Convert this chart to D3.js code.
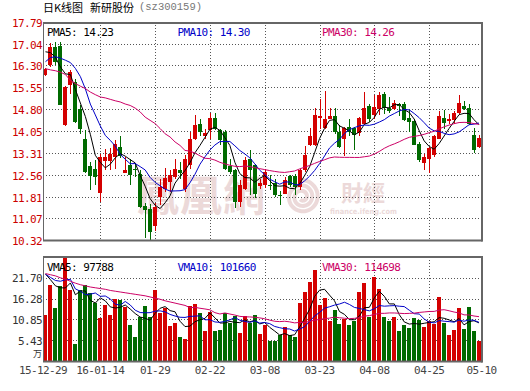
<!DOCTYPE html>
<html>
<head>
<meta charset="utf-8">
<script src="https://cdn.jsdelivr.net/npm/d3@7"></script>
<style>
  body { margin: 0; background: #fff; }
  svg { display: block; }
  text { font-family: "DejaVu Sans Mono", monospace; font-size: 11px; letter-spacing: -0.6px; }
</style>
</head>
<body>
<div id="chart"></div>
<script>
// trading days, 15-12-29 .. 16-05-10
const dates = ["2015-12-29","2015-12-30","2015-12-31",
  "2016-01-04","2016-01-05","2016-01-06","2016-01-07","2016-01-08",
  "2016-01-11","2016-01-12","2016-01-13","2016-01-14","2016-01-15",
  "2016-01-18","2016-01-19","2016-01-20","2016-01-21","2016-01-22",
  "2016-01-25","2016-01-26","2016-01-27","2016-01-28","2016-01-29",
  "2016-02-01","2016-02-02","2016-02-03","2016-02-04","2016-02-05",
  "2016-02-15","2016-02-16","2016-02-17","2016-02-18","2016-02-19",
  "2016-02-22","2016-02-23","2016-02-24","2016-02-25","2016-02-26",
  "2016-02-29","2016-03-01","2016-03-02","2016-03-03","2016-03-04",
  "2016-03-07","2016-03-08","2016-03-09","2016-03-10","2016-03-11",
  "2016-03-14","2016-03-15","2016-03-16","2016-03-17","2016-03-18",
  "2016-03-21","2016-03-22","2016-03-23","2016-03-24","2016-03-25",
  "2016-03-28","2016-03-29","2016-03-30","2016-03-31","2016-04-01",
  "2016-04-05","2016-04-06","2016-04-07","2016-04-08",
  "2016-04-11","2016-04-12","2016-04-13","2016-04-14","2016-04-15",
  "2016-04-18","2016-04-19","2016-04-20","2016-04-21","2016-04-22",
  "2016-04-25","2016-04-26","2016-04-27","2016-04-28","2016-04-29",
  "2016-05-03","2016-05-04","2016-05-05","2016-05-06",
  "2016-05-09","2016-05-10"];

const open = [15.98,16.31,16.94,16.97,14.25,15.64,15.73,14.80,13.79,12.86,
  12.74,11.92,13.01,13.01,13.17,13.51,12.63,12.88,12.76,12.59,
  11.48,11.37,10.80,11.79,12.08,12.31,12.48,12.71,12.08,12.88,
  13.77,14.29,13.90,14.08,14.50,14.08,14.02,12.86,12.71,11.62,
  12.08,13.08,12.88,12.17,12.20,12.22,12.26,11.85,11.91,12.51,
  12.53,12.14,12.71,13.59,13.56,14.50,14.16,14.48,14.57,14.02,
  13.77,14.19,14.16,13.99,14.31,14.91,14.59,14.80,15.33,14.84,
  14.80,14.99,14.99,14.50,14.39,13.62,12.97,13.08,13.22,13.79,
  14.50,14.39,14.42,14.68,14.91,14.84,13.93,13.51];

const high = [16.22,17.08,17.11,17.10,15.60,16.13,15.85,14.94,14.08,12.99,
  13.05,13.28,13.45,13.47,13.75,13.88,13.17,13.10,12.96,12.72,
  11.58,11.55,11.58,12.42,12.80,12.71,13.11,12.99,13.24,14.02,
  14.61,14.48,14.13,14.68,14.68,14.13,14.08,13.11,12.77,12.36,
  13.16,13.39,12.94,12.40,12.75,12.55,12.40,12.00,12.47,12.55,
  12.59,12.77,13.54,14.16,14.84,15.14,15.41,14.84,14.84,14.25,
  14.20,14.45,14.20,14.53,15.39,14.99,15.30,15.39,15.39,15.22,
  15.11,15.03,15.05,14.76,14.48,13.68,13.28,13.51,13.91,14.73,
  14.76,14.65,14.73,15.30,15.07,14.99,14.16,13.91];

const low = [15.95,16.25,16.32,14.93,14.22,15.33,14.34,13.96,12.63,12.02,
  12.19,11.62,12.71,12.71,12.75,13.12,12.60,12.20,12.48,11.40,
  10.38,10.32,10.64,11.51,11.97,11.97,12.42,12.42,11.97,12.76,
  13.73,13.90,13.79,13.77,14.08,13.56,12.71,12.59,11.40,11.45,
  12.02,11.85,11.76,12.08,12.10,12.05,11.80,11.52,11.88,12.15,
  11.85,12.02,12.65,13.54,13.54,14.14,14.14,14.45,13.96,13.47,
  13.20,13.90,13.39,13.90,14.27,14.36,14.48,14.61,14.65,14.68,
  14.76,14.57,14.39,14.02,13.56,12.99,12.71,12.63,13.16,13.77,
  14.14,14.31,14.31,14.65,14.76,14.25,13.31,13.47];

const close = [16.19,16.93,16.42,14.96,15.56,16.08,14.36,14.11,12.65,12.51,
  12.48,13.16,13.16,13.28,13.60,13.20,12.73,12.56,12.72,11.45,
  11.35,10.60,11.44,12.14,12.44,12.56,12.76,12.62,13.11,13.79,
  14.27,14.02,13.98,14.50,14.14,13.74,12.77,12.65,11.62,12.19,
  13.07,12.71,11.91,12.29,12.65,12.20,11.86,11.82,12.38,12.20,
  12.13,12.71,13.22,13.88,14.59,14.57,14.48,14.57,14.02,13.51,
  14.16,14.02,13.91,14.50,14.84,14.48,14.88,15.30,14.84,14.73,
  15.03,14.91,14.42,14.36,13.59,13.05,13.16,13.47,13.88,14.57,
  14.34,14.45,14.68,15.03,14.80,14.31,13.39,13.82];

// volume in 万 (10k lots)
const volume = [12.03,19.85,13.77,19.59,30.0,18.54,4.48,18.54,19.85,17.68,
  15.07,11.17,14.64,12.03,16.20,15.94,14.20,9.43,6.13,11.60,
  14.38,11.60,18.54,12.64,13.77,9.17,10.04,6.22,5.70,14.38,
  14.90,12.64,7.95,12.90,7.95,8.13,12.64,10.04,11.77,7.43,
  11.77,10.04,12.03,7.08,9.42,5.26,5.26,6.82,8.99,6.82,
  6.38,15.24,18.10,20.71,23.74,14.63,16.37,10.46,13.33,9.68,
  10.98,9.42,10.46,18.10,20.45,11.59,21.83,18.88,11.59,10.55,
  11.59,7.86,9.42,8.73,11.33,10.72,8.99,10.55,9.60,16.71,
  9.86,6.82,8.12,13.94,8.38,14.11,7.95,5.34];

// moving-average values before a full window exists
const ma5Head = [16.77,16.74,16.58,16.25];
const ma10Head = [16.43,16.57,16.60,16.55,16.48,16.40,16.20,15.92,15.50];
const ma30Head = [16.19,16.15,16.12,16.07,15.99,15.79,15.68,15.59,15.51,15.39,
  15.30,15.22,15.19,15.14,15.09,15.05,14.98,14.93,14.84,14.71,
  14.53,14.42,14.31,14.14,13.96,13.85,13.68,13.56,13.39];
const vma5Head = [22.7,21.2,19.6,19.1];
const vma10Head = [22.6,21.8,21.0,20.8,21.2,21.3,18.8,18.2,17.3];
const vma30Head = [22.8,22.5,22.2,21.7,21.3,20.8,20.3,19.9,19.6,19.3,
  19.1,18.9,18.7,18.4,18.2,18.0,17.8,17.6,17.4,17.2,
  17.0,16.7,16.4,16.1,15.7,15.4,15.1,14.8,14.5];

const priceTicks = [10.32,11.07,11.81,12.56,13.31,14.05,14.80,15.55,16.30,17.04,17.79];
const volTicks = [5.43,10.85,16.28,21.70];
const tickDates = ["2015-12-29","2016-01-14","2016-01-29","2016-02-22","2016-03-08","2016-03-23","2016-04-08","2016-04-25","2016-05-10"];
const tickLabels = ["15-12-29","16-01-14","01-29","02-22","03-08","03-23","04-08","04-25","05-10"];

const priceLegend = ["PMA5: 14.23","PMA10: 14.30","PMA30: 14.26"];
const volLegend = ["VMA5: 97788","VMA10: 101660","VMA30: 114698"];

const RED = '#d40000', GREEN = '#006a00';
const lineColors = ['#000000', '#0000c8', '#cc0066'];

const W = 530, H = 391;
const plot = {left: 43, right: 481.5, top: 22, bottom: 240};
const vol = {top: 257, bottom: 361};

const svg = d3.select('#chart').append('svg').attr('width', W).attr('height', H);

const x = d3.scaleBand().domain(dates).range([plot.left, plot.right])
  .paddingInner(0.2).paddingOuter(0.1);
const cx = d => x(d) + x.bandwidth() / 2;
const yP = d3.scaleLinear().domain([10.32, 17.79]).range([plot.bottom, plot.top]);
const yV = d3.scaleLinear().domain([0, 27.125]).range([vol.bottom, vol.top]).clamp(true);

const rows = dates.map((d, i) => ({date: d, o: open[i], h: high[i], l: low[i], c: close[i], v: volume[i]}));
const colorOf = r => r.c >= r.o ? RED : GREEN;

function movingAvg(values, n, head) {
  return values.map((v, i) => i < n - 1 ? head[i] : d3.mean(values.slice(i - n + 1, i + 1)));
}
const priceMAs = [movingAvg(close, 5, ma5Head), movingAvg(close, 10, ma10Head), movingAvg(close, 30, ma30Head)];
const volMAs = [movingAvg(volume, 5, vma5Head), movingAvg(volume, 10, vma10Head), movingAvg(volume, 30, vma30Head)];

// clip paths
const defs = svg.append('defs');
defs.append('clipPath').attr('id', 'clipP').append('rect')
  .attr('x', plot.left).attr('y', plot.top).attr('width', plot.right - plot.left).attr('height', plot.bottom - plot.top);
defs.append('clipPath').attr('id', 'clipV').append('rect')
  .attr('x', plot.left).attr('y', vol.top).attr('width', plot.right - plot.left).attr('height', vol.bottom - vol.top);

// title
const cjk = sel => sel.style('font-family', '"Noto Sans CJK SC", sans-serif').style('letter-spacing', '0');
cjk(svg.append('text')).attr('x', 43).attr('y', 7).attr('dominant-baseline', 'central')
  .style('font-size', '11px').attr('fill', '#000').text('日K线图');
cjk(svg.append('text')).attr('x', 90).attr('y', 7).attr('dominant-baseline', 'central')
  .style('font-size', '11px').attr('fill', '#000').text('新研股份');
svg.append('text').attr('x', 139).attr('y', 7).attr('dominant-baseline', 'central')
  .style('font-family', '"Liberation Mono", monospace').style('font-size', '10.5px').style('letter-spacing', '0')
  .attr('fill', '#777').text('(sz300159)');

// watermark
const wm = svg.append('g').attr('opacity', 0.65);
const wmColor = '#e2c6c6';
wm.append('text').attr('x', 137).attr('y', 211)
  .style('font-family', '"Noto Sans CJK TC", sans-serif').style('font-size', '42px').style('font-weight', 700)
  .style('letter-spacing', '1px').attr('fill', wmColor).text('鳳凰網');
const spiral = d3.lineRadial().curve(d3.curveCardinal)
  .angle(t => t * Math.PI * 2 * 2.6)
  .radius(t => 17 - t * 14);
wm.append('path').attr('transform', 'translate(302,197)')
  .attr('d', spiral(d3.range(0, 1.001, 0.02)))
  .attr('fill', 'none').attr('stroke', wmColor).attr('stroke-width', 4);
wm.append('text').attr('x', 341).attr('y', 201)
  .style('font-family', '"Noto Sans CJK TC", sans-serif').style('font-size', '22px').style('font-weight', 700)
  .style('letter-spacing', '0').attr('fill', wmColor).text('財經');
wm.append('text').attr('x', 330).attr('y', 214)
  .attr('textLength', 67).attr('lengthAdjust', 'spacingAndGlyphs')
  .style('font-family', '"DejaVu Sans", sans-serif').style('font-size', '7.5px').style('font-weight', 700)
  .style('letter-spacing', '0').attr('fill', wmColor).text('finance.ifeng.com');

// grid
const grid = svg.append('g').attr('stroke', '#555').attr('stroke-width', 1).attr('stroke-dasharray', '1,2');
grid.selectAll('.hp').data(priceTicks.slice(1, -1)).join('line')
  .attr('x1', plot.left).attr('x2', plot.right)
  .attr('y1', d => Math.round(yP(d)) + 0.5).attr('y2', d => Math.round(yP(d)) + 0.5);
grid.selectAll('.hv').data(volTicks).join('line')
  .attr('x1', plot.left).attr('x2', plot.right)
  .attr('y1', d => Math.round(yV(d)) + 0.5).attr('y2', d => Math.round(yV(d)) + 0.5);
const innerTicks = tickDates.slice(1, -1);
grid.selectAll('.vp').data(innerTicks).join('line')
  .attr('x1', d => Math.round(cx(d)) + 0.5).attr('x2', d => Math.round(cx(d)) + 0.5)
  .attr('y1', plot.top).attr('y2', plot.bottom);
grid.selectAll('.vv').data(innerTicks).join('line')
  .attr('x1', d => Math.round(cx(d)) + 0.5).attr('x2', d => Math.round(cx(d)) + 0.5)
  .attr('y1', vol.top).attr('y2', vol.bottom);

// candles
const bodyX = d => Math.round(cx(d.date) - 2);
const candles = svg.append('g').attr('clip-path', 'url(#clipP)');
candles.selectAll('line').data(rows).join('line')
  .attr('x1', d => bodyX(d) + 2.5).attr('x2', d => bodyX(d) + 2.5)
  .attr('y1', d => Math.round(yP(d.h))).attr('y2', d => Math.round(yP(d.l)))
  .attr('stroke', colorOf).attr('stroke-width', 1);
candles.selectAll('rect').data(rows).join('rect')
  .attr('x', bodyX).attr('width', 4)
  .attr('y', d => Math.round(yP(Math.max(d.o, d.c))))
  .attr('height', d => Math.max(1, Math.round(yP(Math.min(d.o, d.c))) - Math.round(yP(Math.max(d.o, d.c)))))
  .attr('fill', colorOf);

// volume bars
svg.append('g').attr('clip-path', 'url(#clipV)')
  .selectAll('rect').data(rows).join('rect')
  .attr('x', bodyX).attr('width', 4)
  .attr('y', d => Math.round(yV(d.v)))
  .attr('height', d => vol.bottom - Math.round(yV(d.v)))
  .attr('fill', colorOf);

// moving-average lines
const maLine = (ys) => d3.line().x((d, i) => cx(dates[i])).y(d => ys(d));
svg.append('g').attr('clip-path', 'url(#clipP)')
  .selectAll('path').data(priceMAs).join('path')
  .attr('d', d => maLine(yP)(d))
  .attr('fill', 'none').attr('stroke-width', 1)
  .attr('stroke', (d, i) => lineColors[i]);
svg.append('g').attr('clip-path', 'url(#clipV)')
  .selectAll('path').data(volMAs).join('path')
  .attr('d', d => maLine(yV)(d))
  .attr('fill', 'none').attr('stroke-width', 1)
  .attr('stroke', (d, i) => lineColors[i]);

// legends
const legendX = [47, 177.5, 322];
svg.selectAll('.pleg').data(priceLegend).join('text')
  .attr('x', (d, i) => legendX[i]).attr('y', 32).attr('dominant-baseline', 'central')
  .attr('fill', (d, i) => lineColors[i]).text(d => d);
svg.selectAll('.vleg').data(volLegend).join('text')
  .attr('x', (d, i) => legendX[i]).attr('y', 267).attr('dominant-baseline', 'central')
  .attr('fill', (d, i) => lineColors[i]).text(d => d);

// axis labels
svg.selectAll('.plab').data(priceTicks).join('text')
  .attr('x', 42).attr('y', d => yP(d) + 1.5)
  .attr('text-anchor', 'end').attr('dominant-baseline', 'central')
  .attr('fill', '#cc0000').text(d => d.toFixed(2));
svg.selectAll('.vlab').data(volTicks).join('text')
  .attr('x', 42).attr('y', d => yV(d) + 1)
  .attr('text-anchor', 'end').attr('dominant-baseline', 'central')
  .attr('fill', '#333').text(d => d.toFixed(2));
cjk(svg.append('text')).attr('x', 42).attr('y', 353)
  .attr('text-anchor', 'end').attr('dominant-baseline', 'central')
  .style('font-size', '9px').attr('fill', '#333').text('万');

const tickX = (d, i) => i === 0 ? plot.left : (i === tickDates.length - 1 ? plot.right : cx(d));
svg.selectAll('.dlab').data(tickDates).join('text')
  .attr('x', tickX).attr('y', 370)
  .attr('text-anchor', 'middle').attr('dominant-baseline', 'central')
  .attr('fill', '#444').text((d, i) => tickLabels[i]);

// frames
function frame(top, bottom) {
  const g = svg.append('g').attr('stroke', '#666').attr('fill', 'none');
  g.append('line').attr('x1', plot.left + 0.5).attr('x2', plot.left + 0.5).attr('y1', top).attr('y2', bottom + 1).attr('stroke-width', 1);
  g.append('line').attr('x1', plot.left).attr('x2', plot.right + 1).attr('y1', top + 1).attr('y2', top + 1).attr('stroke-width', 2);
  g.append('line').attr('x1', plot.left).attr('x2', plot.right + 1).attr('y1', bottom + 0.5).attr('y2', bottom + 0.5).attr('stroke-width', 2);
  g.append('line').attr('x1', plot.right + 0.5).attr('x2', plot.right + 0.5).attr('y1', top).attr('y2', bottom + 1.5).attr('stroke-width', 2);
}
frame(plot.top, plot.bottom);
frame(vol.top - 1, vol.bottom);
</script>
</body>
</html>
